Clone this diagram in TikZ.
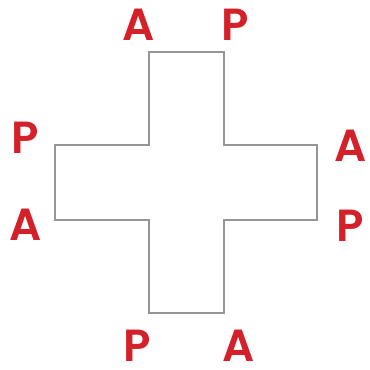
\documentclass[tikz,border=0pt]{standalone}
\usepackage{fontspec}
\setmainfont{Poppins}[BoldFont={* SemiBold}]
\definecolor{lbl}{RGB}{212,32,40}
\definecolor{edge}{RGB}{150,150,150}
\tikzset{
  lab/.style={text=lbl, font=\fontsize{45}{45}\selectfont\bfseries, inner sep=0pt, anchor=center},
  crossline/.style={draw=edge, line width=1.6pt, line join=miter}
}
\begin{document}
\begin{tikzpicture}[x=1pt,y=-1pt]
\useasboundingbox (0,0) rectangle (370,370);
\fill[white] (0,0) rectangle (370,370);
\draw[crossline] (149,52) -- (224,52) -- (224,145) -- (317,145) -- (317,220) -- (224,220) -- (224,313) -- (149,313) -- (149,220) -- (55,220) -- (55,145) -- (149,145) -- cycle;
\node[lab] (tA) at (139,25) {A};
\node[lab] (tP) at (235,25) {P};
\node[lab] (lP) at (25,138) {P};
\node[lab] (lA) at (26,225) {A};
\node[lab] (rA) at (351,146) {A};
\node[lab] (rP) at (350,226) {P};
\node[lab] (bP) at (137,346) {P};
\node[lab] (bA) at (239,346) {A};
\end{tikzpicture}
\end{document}
